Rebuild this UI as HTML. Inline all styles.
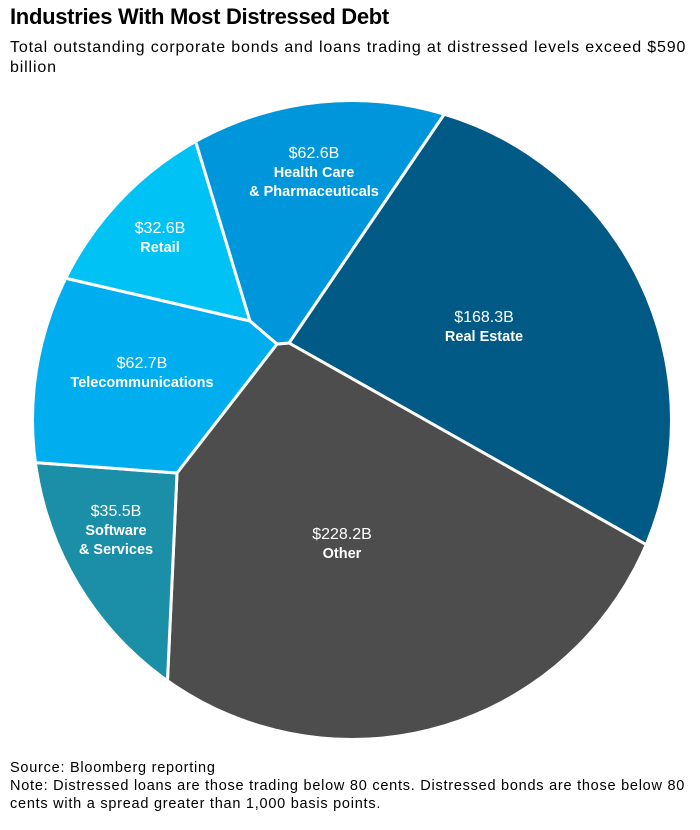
<!DOCTYPE html>
<html><head><style>
body{margin:0;background:#fff;width:700px;height:830px;overflow:hidden;font-family:"Liberation Sans",sans-serif;}
.t{position:absolute;left:10px;top:4px;font-size:22px;font-weight:bold;color:#000;letter-spacing:-0.3px}
.s{position:absolute;left:10px;top:38px;font-size:16px;color:#000;line-height:20px;width:700px;letter-spacing:0.85px;white-space:nowrap}
.f{position:absolute;left:10px;top:759px;font-size:14.5px;color:#000;line-height:18px;width:700px;letter-spacing:0.75px;white-space:nowrap}
svg{position:absolute;left:0;top:0}
</style></head><body>
<div class="t">Industries With Most Distressed Debt</div>
<div class="s">Total outstanding corporate bonds and loans trading at distressed levels exceed $590<br>billion</div>
<svg width="700" height="830" viewBox="0 0 700 830">
<defs><clipPath id="c"><circle cx="352" cy="420" r="318"/></clipPath></defs>
<g clip-path="url(#c)" stroke="#fff" stroke-width="3" stroke-linejoin="round">
<polygon fill="#005a85" points="289,343 481,60 700,60 700,575"/>
<polygon fill="#4d4d4d" points="289,343 700,575 700,800 162,800 177,473 277,344"/>
<polygon fill="#1b8fa8" points="177,473 162,800 0,800 0,460"/>
<polygon fill="#00aeef" points="277,344 177,473 0,460 0,263 250,321"/>
<polygon fill="#00c2f5" points="250,321 0,263 0,60 171,60"/>
<polygon fill="#0096db" points="250,321 171,60 481,60 289,343 277,344"/>
</g>
<g fill="#fff" text-anchor="middle" font-family="Liberation Sans, sans-serif">
<text x="314" y="158" font-size="16">$62.6B</text>
<text x="314" y="177" font-size="14.5" font-weight="bold">Health Care</text>
<text x="314" y="196" font-size="14.5" font-weight="bold">&amp; Pharmaceuticals</text>
<text x="160" y="233" font-size="16">$32.6B</text>
<text x="160" y="252" font-size="14.5" font-weight="bold">Retail</text>
<text x="484" y="322" font-size="16">$168.3B</text>
<text x="484" y="341" font-size="14.5" font-weight="bold">Real Estate</text>
<text x="142" y="368" font-size="16">$62.7B</text>
<text x="142" y="387" font-size="14.5" font-weight="bold">Telecommunications</text>
<text x="116" y="516" font-size="16">$35.5B</text>
<text x="116" y="535" font-size="14.5" font-weight="bold">Software</text>
<text x="116" y="554" font-size="14.5" font-weight="bold">&amp; Services</text>
<text x="342" y="539" font-size="16">$228.2B</text>
<text x="342" y="558" font-size="14.5" font-weight="bold">Other</text>
</g>
</svg>
<div class="f">Source: Bloomberg reporting<br>Note: Distressed loans are those trading below 80 cents. Distressed bonds are those below 80<br>cents with a spread greater than 1,000 basis points.</div>
</body></html>
